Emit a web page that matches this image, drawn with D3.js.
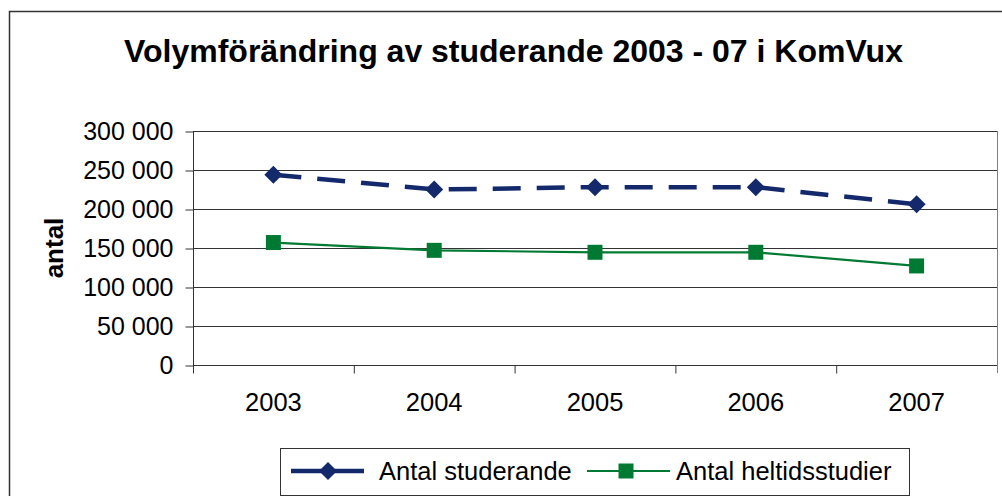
<!DOCTYPE html>
<html>
<head>
<meta charset="utf-8">
<script src="https://cdn.jsdelivr.net/npm/d3@7"></script>
<style>
    body { margin: 0; background: #fff; }
    svg { display: block; font-family: "Liberation Sans", Arial, sans-serif; }
</style>
</head>
<body>
<div class="graph_container"></div>
<script>
// data
const years = ["2003", "2004", "2005", "2006", "2007"];
const antalStuderande = [244000, 225000, 228000, 228000, 206000];
const antalHeltid = [157000, 147000, 144500, 144500, 127000];
const yTicks = [0, 50000, 100000, 150000, 200000, 250000, 300000];
const seriesNames = ["Antal studerande", "Antal heltidsstudier"];

const W = 1002, H = 496;
const plot = { left: 193, right: 997, top: 131, bottom: 365 };
const navy = "#13296b";
const green = "#007a33";

const svg = d3.select(".graph_container").append("svg").attr("width", W).attr("height", H);

// outer chart frame
svg.append("rect").attr("x", 9.5).attr("y", 11.5).attr("width", 1010).attr("height", 500)
    .attr("fill", "#fff").attr("stroke", "#333").attr("stroke-width", 1.5);

// title
svg.append("text").attr("x", 513.5).attr("y", 62).attr("text-anchor", "middle")
    .style("font-size", "32px").style("font-weight", "bold").text("Volymförändring av studerande 2003 - 07 i KomVux");

//^ SCALES
const xBand = d3.scaleBand().domain(years).range([plot.left, plot.right]);
const yScale = d3.scaleLinear().domain([0, 300000]).range([plot.bottom, plot.top]);
const fmt = d3.formatLocale({ decimal: ",", thousands: " ", grouping: [3], currency: ["", ""] }).format(",d");
const xPos = (i) => xBand(years[i]) + xBand.bandwidth() / 2;

// gridlines
svg.append("g").selectAll("line").data(yTicks.filter((d) => d > 0)).join("line")
    .attr("x1", plot.left).attr("x2", plot.right)
    .attr("y1", (d) => yScale(d) + 0.5).attr("y2", (d) => yScale(d) + 0.5)
    .attr("stroke", "#333").attr("stroke-width", 1);

// right border of plot area
svg.append("line").attr("x1", plot.right + 0.5).attr("x2", plot.right + 0.5)
    .attr("y1", plot.top).attr("y2", plot.bottom + 8).attr("stroke", "#808080");

//^ Y AXIS
const yAxis = d3.axisLeft(yScale).tickValues(yTicks).tickFormat(fmt).tickSize(8).tickPadding(12);
const gy = svg.append("g").attr("transform", "translate(" + (plot.left + 0.5) + ",0.5)").call(yAxis);
gy.select(".domain").attr("d", "M0," + (plot.top - 0.5) + "V" + (plot.bottom + 8)).attr("stroke", "#333");
gy.selectAll(".tick line").attr("stroke", "#333");
gy.selectAll(".tick text").style("font-size", "25px").style("font-family", "Liberation Sans, Arial").attr("fill", "#000");

//^ X AXIS (ticks between categories)
const gx = svg.append("g").attr("transform", "translate(0," + (plot.bottom + 0.5) + ")");
gx.append("line").attr("x1", plot.left).attr("x2", plot.right).attr("stroke", "#333");
gx.selectAll(".xt").data(years.slice(1)).join("line").attr("class", "xt")
    .attr("x1", (d) => xBand(d) + 0.5).attr("x2", (d) => xBand(d) + 0.5)
    .attr("y1", 0).attr("y2", 8).attr("stroke", "#333");
gx.selectAll("text").data(years).join("text")
    .attr("x", (d) => xBand(d) + xBand.bandwidth() / 2).attr("y", 45)
    .attr("text-anchor", "middle").style("font-size", "25.5px").text((d) => d);

// y title
svg.append("text").attr("transform", "translate(63,248) rotate(-90)").attr("text-anchor", "middle")
    .style("font-size", "26px").style("font-weight", "bold").text("antal");

//^ LINES
const line = d3.line().x((d, i) => xPos(i)).y((d) => yScale(d));
svg.append("path").datum(antalHeltid).attr("d", line).attr("fill", "none")
    .attr("stroke", green).attr("stroke-width", 2.2);
svg.append("path").datum(antalStuderande).attr("d", line).attr("fill", "none")
    .attr("stroke", navy).attr("stroke-width", 4.5).attr("stroke-dasharray", "28,16");

const diamond = (cx, cy, r) => "M" + cx + "," + (cy - r) + "L" + (cx + r) + "," + cy + "L" + cx + "," + (cy + r) + "L" + (cx - r) + "," + cy + "Z";

svg.append("g").selectAll("path").data(antalStuderande).join("path")
    .attr("d", (d, i) => diamond(xPos(i), yScale(d), 9)).attr("fill", navy);
svg.append("g").selectAll("rect").data(antalHeltid).join("rect")
    .attr("x", (d, i) => xPos(i) - 7.5).attr("y", (d) => yScale(d) - 7.5)
    .attr("width", 15).attr("height", 15).attr("fill", green);

//^ LEGEND
const lg = svg.append("g");
lg.append("rect").attr("x", 280.5).attr("y", 448.5).attr("width", 629).attr("height", 47)
    .attr("fill", "#fff").attr("stroke", "#333").attr("stroke-width", 1);
const ly = 471;
lg.append("line").attr("x1", 291).attr("x2", 364).attr("y1", ly).attr("y2", ly)
    .attr("stroke", navy).attr("stroke-width", 4.5);
lg.append("path").attr("d", diamond(328, ly, 9)).attr("fill", navy);
lg.append("text").attr("x", 379).attr("y", ly + 9).style("font-size", "25.5px").text(seriesNames[0]);
lg.append("line").attr("x1", 587).attr("x2", 670).attr("y1", ly).attr("y2", ly)
    .attr("stroke", green).attr("stroke-width", 2.2);
lg.append("rect").attr("x", 618.5).attr("y", ly - 7.5).attr("width", 15).attr("height", 15).attr("fill", green);
lg.append("text").attr("x", 676).attr("y", ly + 9).style("font-size", "25.5px").text(seriesNames[1]);
</script>
</body>
</html>
